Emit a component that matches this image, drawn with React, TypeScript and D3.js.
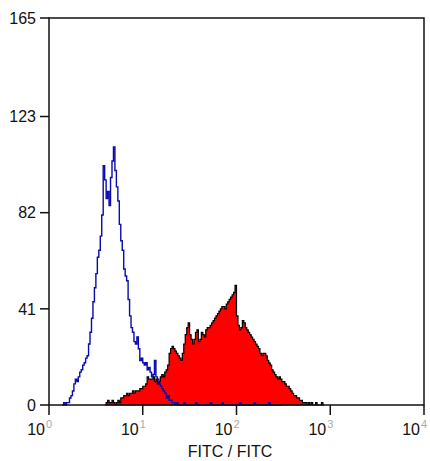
import * as d3 from "d3";
import { useEffect, useRef } from "react";

// histogram channels: 256 channels over 4 decades
const channels = 256;
const decades = 4;

// isotype control (blue outline), first channel = 9
const blueStart = 9;
const blueCounts = [
  0, 1, 0, 1, 1, 3, 4, 6, 9, 11, 10, 12, 14, 15, 17, 18, 20, 21, 26, 31,
  37, 44, 50, 56, 63, 66, 72, 81, 102, 96, 88, 91, 85, 97, 104, 110, 100, 93, 87, 77,
  70, 66, 58, 55, 53, 45, 38, 33, 31, 27, 26, 29, 24, 19, 20, 18, 17, 18, 15, 16,
  14, 12, 13, 19, 12, 11, 9, 8, 7, 6, 5, 3, 4, 2, 2, 1, 1, 0, 1, 0,
  0, 0, 0, 1, 0, 0, 0, 0, 0, 0, 0, 1, 0, 0, 0, 0, 0, 0, 0, 0,
  0, 1, 0, 0, 0, 0, 0, 0, 0, 1, 0, 0, 0, 0, 0, 0, 0, 0, 0, 0,
  0, 1, 0, 0, 0, 0, 0, 0, 0, 0, 0, 1, 0, 0, 0, 0, 0, 0, 0, 0,
  0, 1, 0, 0, 0, 0, 0, 0, 0, 0,
];

// stained sample (red filled), first channel = 38
const redStart = 38;
const redCounts = [
  0, 1, 2, 1, 1, 2, 1, 0, 1, 2, 1, 3, 3, 4, 4, 5, 4, 5, 5, 6,
  5, 6, 6, 6, 7, 7, 8, 8, 9, 12, 11, 11, 11, 12, 10, 11, 9, 10, 12, 13,
  12, 14, 15, 17, 22, 24, 25, 24, 23, 22, 21, 20, 19, 22, 26, 30, 33, 35, 30, 28,
  26, 28, 31, 32, 27, 28, 31, 30, 29, 32, 33, 33, 34, 35, 36, 37, 38, 39, 40, 41,
  42, 42, 41, 43, 44, 45, 46, 47, 48, 51, 38, 34, 32, 33, 36, 35, 33, 32, 31, 30,
  29, 28, 27, 26, 25, 24, 22, 21, 22, 22, 21, 19, 18, 17, 15, 14, 13, 12, 11, 12,
  11, 10, 10, 9, 8, 8, 7, 6, 5, 4, 4, 3, 3, 2, 2, 1, 1, 1, 0, 1,
  0, 1, 0, 0, 1, 0, 0, 0, 1, 0,
];

const yTicks = [0, 41, 82, 123, 165];
const xTicks = [0, 1, 2, 3, 4];
const xTitle = "FITC / FITC";

type Bin = { x: number; v: number };

function toBins(start: number, counts: number[]): Bin[] {
  const edge = (i: number) => Math.pow(10, (i * decades) / channels);
  const bins = counts.map((v, k) => ({ x: edge(start + k), v }));
  bins.push({ x: edge(start + counts.length), v: counts[counts.length - 1] });
  return bins;
}

export default function App() {
  const ref = useRef<SVGSVGElement>(null);

  useEffect(() => {
    if (!ref.current) return;
    const svg = d3.select(ref.current);
    svg.selectAll("*").remove();

    const left = 49, right = 424, top = 18, bottom = 405;
    const font = "'Liberation Sans', Arial, sans-serif";

    const x = d3.scaleLog().domain([1, 1e4]).range([left, right]);
    const y = d3.scaleLinear().domain([0, 165]).range([bottom, top]);

    const red = toBins(redStart, redCounts);
    const blue = toBins(blueStart, blueCounts);

    const area = d3
      .area<Bin>()
      .x((d) => x(d.x))
      .y0(y(0))
      .y1((d) => y(d.v))
      .curve(d3.curveStepAfter);

    const line = d3
      .line<Bin>()
      .x((d) => x(d.x))
      .y((d) => y(d.v))
      .curve(d3.curveStepAfter);

    svg
      .append("path")
      .datum(red)
      .attr("d", area)
      .attr("fill", "#ff0000")
      .attr("stroke", "#000")
      .attr("stroke-width", 1.2);

    svg
      .append("path")
      .datum(blue)
      .attr("d", line)
      .attr("fill", "none")
      .attr("stroke", "#0a0ab0")
      .attr("stroke-width", 1.4);

    // frame
    svg
      .append("rect")
      .attr("x", left)
      .attr("y", top)
      .attr("width", right - left)
      .attr("height", bottom - top)
      .attr("fill", "none")
      .attr("stroke", "#111")
      .attr("stroke-width", 1.5);

    // y axis
    const gy = svg.append("g");
    yTicks.forEach((t) => {
      gy.append("line")
        .attr("x1", left - 9)
        .attr("x2", left)
        .attr("y1", y(t))
        .attr("y2", y(t))
        .attr("stroke", "#111")
        .attr("stroke-width", 1.5);
      gy.append("text")
        .attr("x", left - 13)
        .attr("y", y(t))
        .attr("dy", "0.36em")
        .attr("text-anchor", "end")
        .style("font-family", font)
        .style("font-size", "16px")
        .attr("fill", "#111")
        .text(t);
    });

    // x axis
    const gx = svg.append("g");
    xTicks.forEach((e) => {
      const px = x(Math.pow(10, e));
      gx.append("line")
        .attr("x1", px)
        .attr("x2", px)
        .attr("y1", bottom)
        .attr("y2", bottom + 10)
        .attr("stroke", "#111")
        .attr("stroke-width", 1.5);
      gx.append("text")
        .attr("x", px - 4)
        .attr("y", 435)
        .attr("text-anchor", "end")
        .style("font-family", font)
        .style("font-size", "16px")
        .attr("fill", "#111")
        .text("10");
      gx.append("text")
        .attr("x", px - 3)
        .attr("y", 428)
        .style("font-family", font)
        .style("font-size", "11px")
        .attr("fill", "#aaa")
        .text(e);
    });

    svg
      .append("text")
      .attr("x", 230)
      .attr("y", 457)
      .attr("text-anchor", "middle")
      .style("font-family", font)
      .style("font-size", "16px")
      .attr("fill", "#111")
      .text(xTitle);
  }, []);

  return (
    <svg
      ref={ref}
      width={430}
      height={461}
      style={{ position: "absolute", left: 0, top: 0, background: "#fff" }}
    />
  );
}
